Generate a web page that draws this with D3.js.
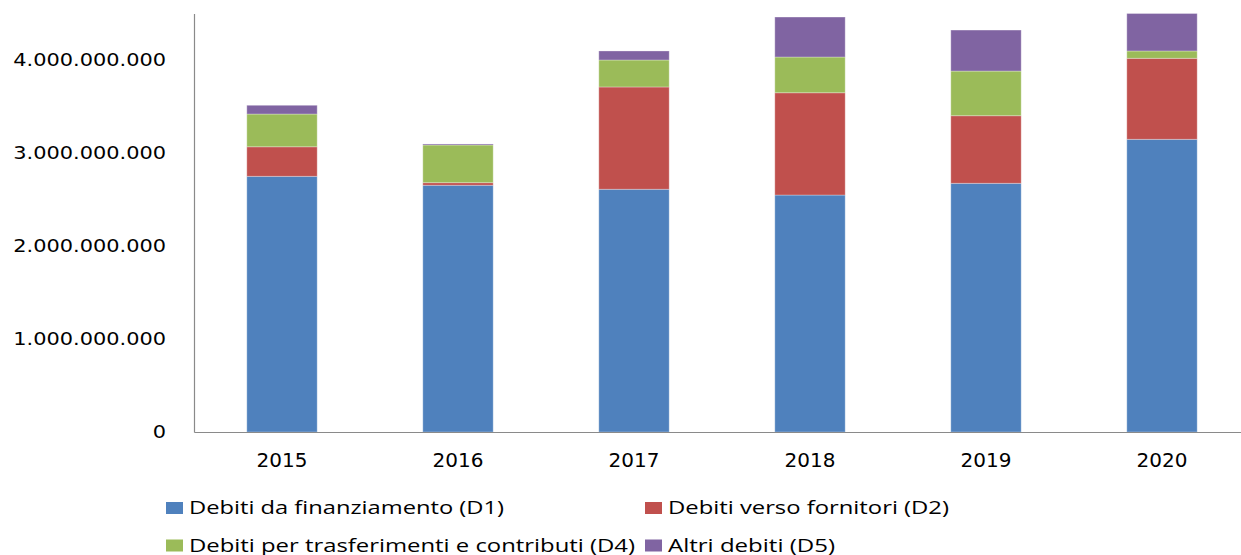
<!DOCTYPE html>
<html>
<head>
<meta charset="utf-8">
<script src="https://cdn.jsdelivr.net/npm/d3@7"></script>
<style>
  html, body { margin: 0; padding: 0; background: #fff; }
  svg { display: block; }
  .tick line { display: none; }
</style>
</head>
<body>
<svg id="chart" width="1241" height="555"></svg>
<script>
// values
const years = ["2015", "2016", "2017", "2018", "2019", "2020"];
const debitiFinanziamento = [2749e6, 2653e6, 2610e6, 2548e6, 2674e6, 3147e6];   // D1
const debitiFornitori     = [318e6,  28e6,   1100e6, 1100e6, 727e6,  871e6];    // D2
const debitiTrasferimenti = [352e6,  405e6,  290e6,  384e6,  480e6,  79e6];     // D4
const altriDebiti         = [94e6,   11e6,   97e6,   430e6,  441e6,  403e6];    // D5
const yTicks = [0, 1e9, 2e9, 3e9, 4e9];

const seriesNames = [
  "Debiti da finanziamento (D1)",
  "Debiti verso fornitori (D2)",
  "Debiti per trasferimenti e contributi (D4)",
  "Altri debiti (D5)"
];
const colors = ["#4F81BD", "#C0504D", "#9BBB59", "#8064A2"];

const svg = d3.select("#chart");
const width = 1241, height = 555;
let margin = { top: 13.5, left: 194, bottom: 123 };
let plotRight = 1250; // the original plot runs past the right edge

const rows = years.map((y, i) => ({
  year: y,
  D1: debitiFinanziamento[i],
  D2: debitiFornitori[i],
  D4: debitiTrasferimenti[i],
  D5: altriDebiti[i]
}));
const keys = ["D1", "D2", "D4", "D5"];
const stacked = d3.stack().keys(keys)(rows);

let xScale = d3.scaleBand()
  .domain(years)
  .range([margin.left, plotRight])
  .paddingInner(0.6)
  .paddingOuter(0.3);

let yScale = d3.scaleLinear()
  .domain([0, 4.5e9])
  .range([height - margin.bottom, margin.top]);

// bars
svg.append("g")
  .selectAll("g")
  .data(stacked)
  .enter().append("g")
  .attr("fill", (d, i) => colors[i])
  .selectAll("rect")
  .data(d => d)
  .enter().append("rect")
  .attr("x", d => xScale(d.data.year))
  .attr("width", xScale.bandwidth())
  .attr("y", d => yScale(d[1]))
  .attr("height", d => yScale(d[0]) - yScale(d[1]))
  .attr("stroke", "#fff")
  .attr("stroke-opacity", 0.3)
  .attr("stroke-width", 1);

// axes
const fmt = d => d3.format(",")(d).replace(/,/g, ".");
let yAxis = d3.axisLeft(yScale)
  .tickValues(yTicks)
  .tickSize(0)
  .tickPadding(28)
  .tickFormat(fmt);
const gy = svg.append("g")
  .attr("transform", `translate(${margin.left},0)`)
  .call(yAxis);
gy.select(".domain").attr("stroke", "#8a8a8a").attr("stroke-width", 1.2);
gy.selectAll("text")
  .attr("fill", "#000")
  .style("font-family", "DejaVu Sans, Verdana, sans-serif")
  .style("font-size", "18px")
  .each(function () {
    // the original labels are drawn a bit wider than the font
    const w = this.getComputedTextLength();
    d3.select(this).attr("textLength", w * 1.16).attr("lengthAdjust", "spacingAndGlyphs");
  });

let xAxis = d3.axisBottom(xScale).tickSize(0).tickPadding(21);
const gx = svg.append("g")
  .attr("transform", `translate(0,${yScale(0)})`)
  .call(xAxis);
gx.select(".domain").attr("stroke", "#8a8a8a").attr("stroke-width", 1.2);
gx.selectAll("text")
  .attr("fill", "#000")
  .style("font-family", "DejaVu Sans, Verdana, sans-serif")
  .style("font-size", "20px");

// legend, two rows of two
const legendPos = [
  { x: 166, y: 508,   w: 315 },
  { x: 645, y: 508,   w: 281 },
  { x: 166, y: 545.5, w: 446 },
  { x: 645, y: 545.5, w: 167 }
];
const legend = svg.append("g")
  .selectAll("g")
  .data(seriesNames)
  .enter().append("g")
  .attr("transform", (d, i) => `translate(${legendPos[i].x},${legendPos[i].y})`);
legend.append("rect")
  .attr("x", 0).attr("y", -6)
  .attr("width", 17).attr("height", 12)
  .attr("fill", (d, i) => colors[i]);
legend.append("text")
  .attr("x", 23)
  .attr("y", 6.3)
  .attr("textLength", (d, i) => legendPos[i].w)
  .attr("lengthAdjust", "spacingAndGlyphs")
  .style("font-family", "Open Sans, Liberation Sans, sans-serif")
  .style("font-size", "18px")
  .attr("fill", "#000")
  .text(d => d);
</script>
</body>
</html>
